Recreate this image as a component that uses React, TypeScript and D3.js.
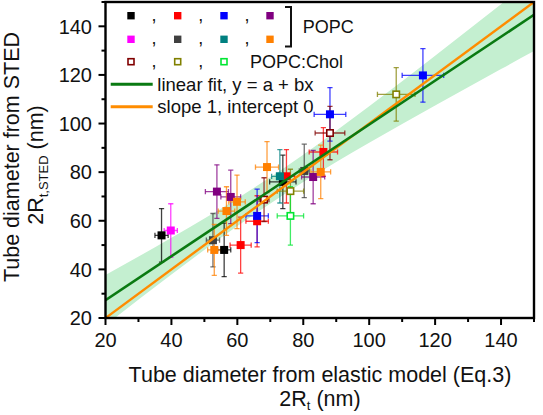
import React from "react";
import * as d3 from "d3";

// ---- data: [x, y, xErr, yErr] per series ----
const blackPts = [[37, 54, 2, 11], [56, 48, 2, 11], [73.8, 76, 4, 11]];
const redPts = [[61, 50, 3.2, 11.5], [66, 59.8, 3.4, 10.5], [74.9, 78.3, 2.5, 11], [86.1, 88.3, 4.3, 10]];
const bluePts = [[66, 62, 3.4, 11], [88.1, 103.8, 4.8, 11], [116.3, 119.8, 6.3, 11]];
const purplePts = [[53.8, 72, 3.5, 11], [58, 69.8, 3, 11], [83, 78, 3.5, 11]];
const magentaPts = [[39.8, 56, 2, 11]];
const darkGrayPts = [[52.6, 52, 2, 11], [80.3, 80.5, 1.5, 11]];
const tealPts = [[72.9, 78.3, 2.5, 11]];
const orangePts = [[53, 48, 2, 10.5], [56.7, 64, 2.5, 10], [59.9, 67.8, 2.5, 11], [69, 82.1, 3.5, 10.5], [85.3, 80.1, 3, 11]];
const maroonPts = [[68.1, 68.7, 1.5, 9], [88.1, 96.1, 4.5, 11]];
const olivePts = [[76.1, 72.2, 4, 9], [108.2, 112, 5.7, 11]];
const greenPts = [[76.1, 62, 4, 12]];

const seriesColors = ["#000000", "#ff0000", "#0000ff", "#800080", "#ff00ff", "#404040", "#008080", "#ff8000", "#800000", "#808000", "#00e632"];
const seriesData = [blackPts, redPts, bluePts, purplePts, magentaPts, darkGrayPts, tealPts, orangePts, maroonPts, olivePts, greenPts];
const seriesOpen = [false, false, false, false, false, false, false, false, true, true, true];

// linear fit y = a + b x
const fitA = 9.3;
const fitB = 0.903;
// confidence band
const bandX = [20, 40, 60, 80, 100, 120, 140, 150];
const bandLow = [17.0, 37.9, 57.8, 75.9, 92.1, 107.4, 122.4, 129.8];
const bandHigh = [37.7, 53.0, 69.2, 87.2, 107.1, 127.9, 149.1, 159.7];

const majorTicks = [20, 40, 60, 80, 100, 120, 140];
const minorTicks = [30, 50, 70, 90, 110, 130, 150];

const FONT = "'Liberation Sans', Arial, Helvetica, sans-serif";

export default function App() {
  const L = 105.5, R = 534, T = 2, B = 318;
  const x = d3.scaleLinear().domain([20, 150]).range([L, R]);
  const y = d3.scaleLinear().domain([20, 150]).range([B, T]);

  const band = d3
    .area<number>()
    .x((_, i) => x(bandX[i]))
    .y0((_, i) => y(bandLow[i]))
    .y1((_, i) => y(bandHigh[i]))
    .curve(d3.curveMonotoneX)(bandX);

  const line = d3.line<number>().x((v) => x(v[0])).y((v) => y(v[1]));
  const fitPath = line([[20, fitA + fitB * 20], [150, fitA + fitB * 150]] as any);
  const unityPath = line([[20, 20], [150, 150]] as any);

  const cap = 2.6;
  const ms = 8;

  const legendCols = [131, 177.7, 224, 270];
  const legendRows = [15.7, 39.3, 61.7];

  return (
    <svg width={543} height={415} style={{ position: "fixed", left: 0, top: 0, background: "#fff" }} fontFamily={FONT}>
      <defs>
        <clipPath id="plotclip">
          <rect x={L} y={T} width={R - L} height={B - T} />
        </clipPath>
      </defs>
      <rect x={0} y={0} width={543} height={415} fill="#fff" />
      <g clipPath="url(#plotclip)">
        <path d={band || ""} fill="#c4efd0" />
        {seriesData.map((pts, si) =>
          pts.map((p, pi) => {
            const c = seriesColors[si];
            const cx = x(p[0]), cy = y(p[1]);
            const x0 = x(p[0] - p[2]), x1 = x(p[0] + p[2]);
            const y0 = y(p[1] - p[3]), y1 = y(p[1] + p[3]);
            return (
              <g key={`e${si}-${pi}`} stroke={c} strokeWidth={1.3} strokeOpacity={0.75} fill="none">
                <line x1={x0} x2={x1} y1={cy} y2={cy} />
                <line x1={x0} x2={x0} y1={cy - cap} y2={cy + cap} />
                <line x1={x1} x2={x1} y1={cy - cap} y2={cy + cap} />
                <line x1={cx} x2={cx} y1={y0} y2={y1} />
                <line x1={cx - cap} x2={cx + cap} y1={y0} y2={y0} />
                <line x1={cx - cap} x2={cx + cap} y1={y1} y2={y1} />
              </g>
            );
          })
        )}
        {seriesData.map((pts, si) =>
          pts.map((p, pi) => {
            const c = seriesColors[si];
            const open = seriesOpen[si];
            return (
              <rect
                key={`m${si}-${pi}`}
                x={x(p[0]) - (open ? ms / 2 - 0.8 : ms / 2)}
                y={y(p[1]) - (open ? ms / 2 - 0.8 : ms / 2)}
                width={open ? ms - 1.6 : ms}
                height={open ? ms - 1.6 : ms}
                fill={open ? "#fff" : c}
                stroke={c}
                strokeWidth={open ? 1.6 : 0}
              />
            );
          })
        )}
        <path d={unityPath || ""} stroke="#ff8c00" strokeWidth={2.4} fill="none" />
        <path d={fitPath || ""} stroke="#0a7a12" strokeWidth={2.6} fill="none" />
      </g>

      {/* frame */}
      <rect x={L} y={T} width={R - L} height={B - T} fill="none" stroke="#000" strokeWidth={2.4} />

      {/* y axis ticks */}
      {majorTicks.map((t) => (
        <g key={`yt${t}`}>
          <line x1={L - 7} x2={L} y1={y(t)} y2={y(t)} stroke="#000" strokeWidth={2} />
          <text x={92} y={y(t)} dy="0.36em" textAnchor="end" fontSize={20} fill="#111">{t}</text>
        </g>
      ))}
      {minorTicks.map((t) => (
        <line key={`ym${t}`} x1={L - 4} x2={L} y1={y(t)} y2={y(t)} stroke="#000" strokeWidth={2} />
      ))}
      {/* x axis ticks */}
      {majorTicks.map((t) => (
        <g key={`xt${t}`}>
          <line x1={x(t)} x2={x(t)} y1={B} y2={B + 7} stroke="#000" strokeWidth={2} />
          <text x={x(t)} y={347} textAnchor="middle" fontSize={20} fill="#111">{t}</text>
        </g>
      ))}
      {minorTicks.map((t) => (
        <line key={`xm${t}`} x1={x(t)} x2={x(t)} y1={B} y2={B + 4} stroke="#000" strokeWidth={2} />
      ))}

      {/* axis titles */}
      <text x={320} y={382} textAnchor="middle" fontSize={21.5} fill="#111">Tube diameter from elastic model (Eq.3)</text>
      <text x={320} y={406} textAnchor="middle" fontSize={21.5} fill="#111">
        2R<tspan fontSize={13} dy={4}>t</tspan><tspan dy={-4}> (nm)</tspan>
      </text>
      <text transform="translate(19,157) rotate(-90)" textAnchor="middle" fontSize={21.5} fill="#111">Tube diameter from STED</text>
      <text transform="translate(43,165) rotate(-90)" textAnchor="middle" fontSize={21.5} fill="#111">
        2R<tspan fontSize={13} dy={5}>t,STED</tspan><tspan dy={-5}> (nm)</tspan>
      </text>

      {/* legend */}
      {[0, 1, 2].map((row) =>
        legendCols.map((cx, col) => {
          const si = row * 4 + col;
          if (si >= seriesColors.length) return null;
          const c = seriesColors[si];
          const open = seriesOpen[si];
          return (
            <g key={`lg${si}`}>
              <rect
                x={cx - (open ? 3 : 3.7)}
                y={legendRows[row] - (open ? 3 : 3.7)}
                width={open ? 6 : 7.4}
                height={open ? 6 : 7.4}
                fill={open ? "#fff" : c}
                stroke={c}
                strokeWidth={open ? 1.6 : 0}
              />
              {col < 3 && !(row === 2 && col === 2) ? (
                <text x={cx + 23} y={legendRows[row] + 5} textAnchor="middle" fontSize={18} fill="#111">,</text>
              ) : null}
            </g>
          );
        })
      )}
      <path d="M285,7 H291 V46.5 H285" fill="none" stroke="#111" strokeWidth={2} />
      <text x={302.7} y={33.3} fontSize={18} fill="#111">POPC</text>
      <text x={250} y={68.3} fontSize={18} fill="#111">POPC:Chol</text>
      <line x1={110.7} x2={152.7} y1={84.3} y2={84.3} stroke="#0a7a12" strokeWidth={3} />
      <text x={157.3} y={91} fontSize={18.5} fill="#111">linear fit, y = a + bx</text>
      <line x1={110.7} x2={152.7} y1={106.7} y2={106.7} stroke="#ff8c00" strokeWidth={3} />
      <text x={157.3} y={113.3} fontSize={18.5} fill="#111">slope 1, intercept 0</text>
    </svg>
  );
}
